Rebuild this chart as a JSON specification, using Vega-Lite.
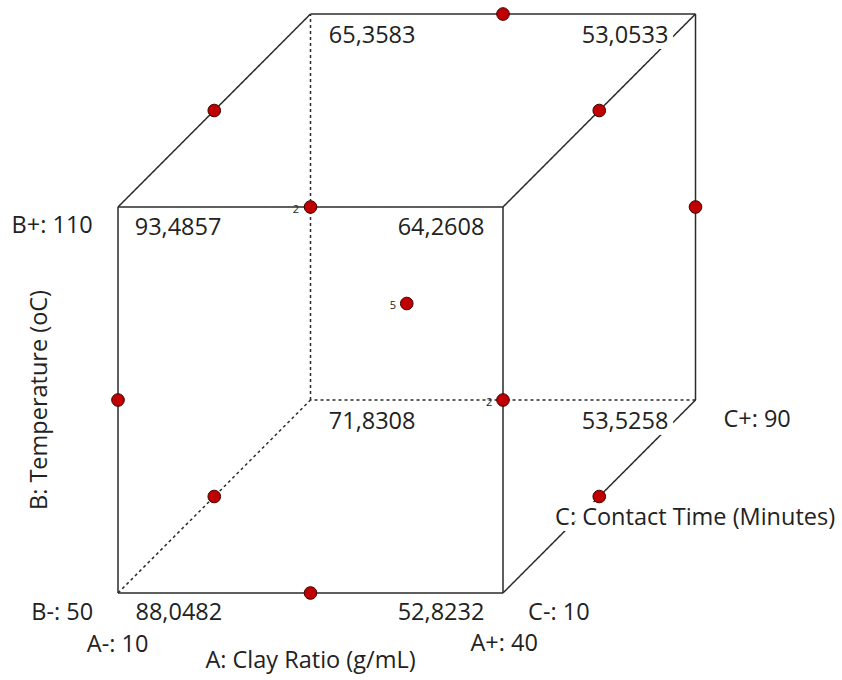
{
  "$schema": "https://vega.github.io/schema/vega-lite/v6.json",
  "width": 842,
  "height": 680,
  "autosize": {"type": "none"},
  "padding": 0,
  "background": "white",
  "config": {"view": {"stroke": null}},
  "datasets": {
    "edges": [
      {"x": 0, "y": 0, "x2": 1, "y2": 0, "style": "solid"},
      {"x": 1, "y": 0, "x2": 1, "y2": 1, "style": "solid"},
      {"x": 1, "y": 1, "x2": 0, "y2": 1, "style": "solid"},
      {"x": 0, "y": 1, "x2": 0, "y2": 0, "style": "solid"},
      {"x": 0.5, "y": 1.5, "x2": 1.5, "y2": 1.5, "style": "solid"},
      {"x": 1.5, "y": 1.5, "x2": 1.5, "y2": 0.5, "style": "solid"},
      {"x": 1.5, "y": 0.5, "x2": 0.5, "y2": 0.5, "style": "dashed"},
      {"x": 0.5, "y": 0.5, "x2": 0.5, "y2": 1.5, "style": "dashed"},
      {"x": 0, "y": 1, "x2": 0.5, "y2": 1.5, "style": "solid"},
      {"x": 1, "y": 1, "x2": 1.5, "y2": 1.5, "style": "solid"},
      {"x": 1, "y": 0, "x2": 1.5, "y2": 0.5, "style": "solid"},
      {"x": 0, "y": 0, "x2": 0.5, "y2": 0.5, "style": "dashed"}
    ],
    "points": [
      {"x": 1.0, "y": 1.5},
      {"x": 0.25, "y": 1.25},
      {"x": 1.25, "y": 1.25},
      {"x": 0.5, "y": 1.0},
      {"x": 1.5, "y": 1.0},
      {"x": 0.75, "y": 0.75},
      {"x": 0.0, "y": 0.5},
      {"x": 1.0, "y": 0.5},
      {"x": 0.25, "y": 0.25},
      {"x": 1.25, "y": 0.25},
      {"x": 0.5, "y": 0.0}
    ],
    "labels": [
      {"x": 0.156, "y": 0.946, "t": "93,4857"},
      {"x": 0.839, "y": 0.946, "t": "64,2608"},
      {"x": 0.158, "y": -0.053, "t": "88,0482"},
      {"x": 0.839, "y": -0.053, "t": "52,8232"},
      {"x": 0.66, "y": 1.443, "t": "65,3583"},
      {"x": 1.317, "y": 1.443, "t": "53,0533"},
      {"x": 0.66, "y": 0.443, "t": "71,8308"},
      {"x": 1.317, "y": 0.443, "t": "53,5258"},
      {"x": -0.171, "y": 0.951, "t": "B+: 110"},
      {"x": -0.145, "y": -0.053, "t": "B-: 50"},
      {"x": -0.001, "y": -0.135, "t": "A-: 10"},
      {"x": 1.003, "y": -0.132, "t": "A+: 40"},
      {"x": 0.5, "y": -0.176, "t": "A: Clay Ratio (g/mL)"},
      {"x": 1.145, "y": -0.053, "t": "C-: 10"},
      {"x": 1.66, "y": 0.448, "t": "C+: 90"},
      {"x": 1.499, "y": 0.194, "t": "C: Contact Time (Minutes)"}
    ],
    "counts": [
      {"x": 0.462, "y": 0.992, "t": "2"},
      {"x": 0.964, "y": 0.492, "t": "2"},
      {"x": 0.714, "y": 0.744, "t": "5"}
    ],
    "ylabel": [
      {"x": -0.203, "y": 0.5, "t": "B: Temperature (oC)"}
    ]
  },
  "encoding": {
    "x": {"field": "x", "type": "quantitative", "scale": {"domain": [-0.3065, 1.8805], "nice": false, "zero": false}, "axis": null},
    "y": {"field": "y", "type": "quantitative", "scale": {"domain": [-0.2254, 1.5363], "nice": false, "zero": false}, "axis": null}
  },
  "layer": [
    {
      "data": {"name": "edges"},
      "mark": {"type": "rule", "color": "#2b2b2b", "strokeWidth": 1.5},
      "encoding": {
        "x2": {"field": "x2"},
        "y2": {"field": "y2"},
        "strokeDash": {"field": "style", "type": "nominal", "scale": {"domain": ["solid", "dashed"], "range": [[1, 0], [3, 3]]}, "legend": null}
      }
    },
    {
      "data": {"name": "labels"},
      "mark": {"type": "text", "font": "Open Sans", "fontSize": 23.5, "align": "center", "baseline": "middle", "stroke": "white", "strokeWidth": 12, "strokeJoin": "round", "fill": "white"},
      "encoding": {"text": {"field": "t"}}
    },
    {
      "data": {"name": "labels"},
      "mark": {"type": "text", "font": "Open Sans", "fontSize": 23.5, "align": "center", "baseline": "middle", "color": "#222222"},
      "encoding": {"text": {"field": "t"}}
    },
    {
      "data": {"name": "ylabel"},
      "mark": {"type": "text", "font": "Open Sans", "fontSize": 23.5, "align": "center", "baseline": "middle", "angle": 270, "color": "#222222"},
      "encoding": {"text": {"field": "t"}}
    },
    {
      "data": {"name": "counts"},
      "mark": {"type": "text", "font": "Open Sans", "fontSize": 11, "align": "center", "baseline": "middle", "color": "#222222"},
      "encoding": {"text": {"field": "t"}}
    },
    {
      "data": {"name": "points"},
      "mark": {"type": "point", "shape": "circle", "filled": true, "size": 160, "fill": "#C00000", "stroke": "#400000", "strokeWidth": 1, "opacity": 1}
    }
  ]
}
